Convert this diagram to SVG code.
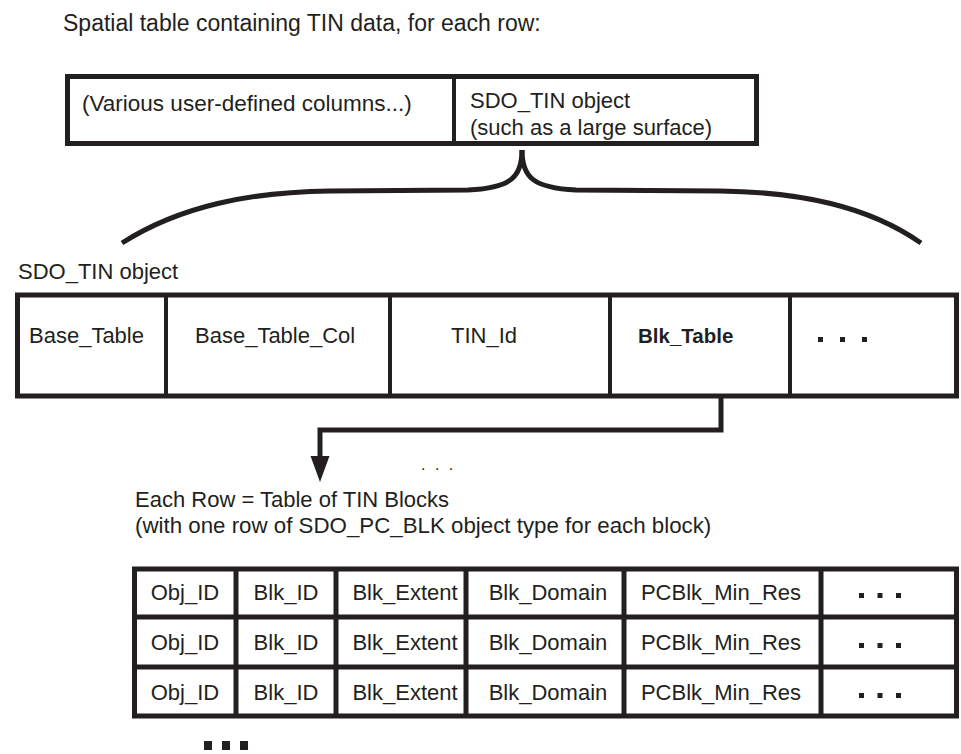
<svg xmlns="http://www.w3.org/2000/svg" width="961" height="754" viewBox="0 0 961 754">
<style>
text{font-family:"Liberation Sans",Arial,Helvetica,sans-serif;font-size:22px;fill:#231f20}
.b{font-weight:bold;font-size:20.5px}
.box{fill:#fff;stroke:#231f20;stroke-width:5}
.div{stroke:#231f20;stroke-width:4;fill:none}
.ln{stroke:#231f20;stroke-width:5;fill:none}
.dot{fill:#231f20}
.mid{text-anchor:middle}
</style>
<rect width="961" height="754" fill="#fff"/>
<text x="63" y="31" style="font-size:23px">Spatial table containing TIN data, for each row:</text>

<g id="row-table">
<rect class="box" x="67.5" y="76.5" width="689" height="67"/>
<line class="div" x1="454" y1="76.5" x2="454" y2="143.5"/>
<text x="82" y="111" style="font-size:22.5px">(Various user-defined columns...)</text>
<text x="470" y="108">SDO_TIN object</text>
<text x="470" y="135">(such as a large surface)</text>
</g>

<g id="brace">
<path class="ln" d="M522,150 C522,177 511,188 468,190 L330,191 C250,192 180,206 122,243"/>
<path class="ln" d="M522,150 C522,177 533,188 576,190 L720,191 C800,192 868,206 921,243"/>
</g>

<g id="sdo-tin">
<text x="18" y="279">SDO_TIN object</text>
<rect class="box" x="17.5" y="295" width="939" height="101"/>
<line class="div" x1="166" y1="295" x2="166" y2="396"/>
<line class="div" x1="390" y1="295" x2="390" y2="396"/>
<line class="div" x1="610" y1="295" x2="610" y2="396"/>
<line class="div" x1="790" y1="295" x2="790" y2="396"/>
<text x="29" y="343">Base_Table</text>
<text x="195" y="343">Base_Table_Col</text>
<text x="451" y="343">TIN_Id</text>
<text class="b" x="638" y="343">Blk_Table</text>
<rect class="dot" x="818" y="337" width="5" height="5"/>
<rect class="dot" x="840" y="337" width="5" height="5"/>
<rect class="dot" x="862" y="337" width="5" height="5"/>
</g>

<g id="connectors">
<polyline class="ln" points="721,398 721,430 320,430 320,460"/>
<polygon class="dot" points="310.5,456 329.5,456 320,482"/>
</g>

<text x="421" y="470" style="font-size:16px;letter-spacing:2.5px">. . .</text>

<g id="blocks">
<text x="135" y="507">Each Row = Table of TIN Blocks</text>
<text x="135" y="533" style="font-size:22.3px">(with one row of SDO_PC_BLK object type for each block)</text>
<rect class="box" x="134.5" y="569" width="822" height="147"/>
<line class="ln" x1="134.5" y1="617" x2="956.5" y2="617"/>
<line class="ln" x1="134.5" y1="667" x2="956.5" y2="667"/>
<line class="ln" x1="236" y1="569" x2="236" y2="716"/>
<line class="ln" x1="336" y1="569" x2="336" y2="716"/>
<line class="ln" x1="466" y1="569" x2="466" y2="716"/>
<line class="ln" x1="624" y1="569" x2="624" y2="716"/>
<line class="ln" x1="821" y1="569" x2="821" y2="716"/>
<g id="blk-row1">
<text class="mid" x="185" y="600">Obj_ID</text>
<text class="mid" x="286" y="600">Blk_ID</text>
<text class="mid" x="405" y="600">Blk_Extent</text>
<text class="mid" x="548" y="600">Blk_Domain</text>
<text class="mid" x="721" y="600">PCBlk_Min_Res</text>
<rect class="dot" x="859" y="593" width="5" height="5"/>
<rect class="dot" x="877.5" y="593" width="5" height="5"/>
<rect class="dot" x="896" y="593" width="5" height="5"/>
</g>
<g id="blk-row2">
<text class="mid" x="185" y="650">Obj_ID</text>
<text class="mid" x="286" y="650">Blk_ID</text>
<text class="mid" x="405" y="650">Blk_Extent</text>
<text class="mid" x="548" y="650">Blk_Domain</text>
<text class="mid" x="721" y="650">PCBlk_Min_Res</text>
<rect class="dot" x="859" y="643" width="5" height="5"/>
<rect class="dot" x="877.5" y="643" width="5" height="5"/>
<rect class="dot" x="896" y="643" width="5" height="5"/>
</g>
<g id="blk-row3">
<text class="mid" x="185" y="700">Obj_ID</text>
<text class="mid" x="286" y="700">Blk_ID</text>
<text class="mid" x="405" y="700">Blk_Extent</text>
<text class="mid" x="548" y="700">Blk_Domain</text>
<text class="mid" x="721" y="700">PCBlk_Min_Res</text>
<rect class="dot" x="859" y="693" width="5" height="5"/>
<rect class="dot" x="877.5" y="693" width="5" height="5"/>
<rect class="dot" x="896" y="693" width="5" height="5"/>
</g>
</g>

<g id="more-rows">
<rect class="dot" x="204" y="741" width="8" height="9"/>
<rect class="dot" x="222" y="741" width="8" height="9"/>
<rect class="dot" x="240" y="741" width="8" height="9"/>
</g>
</svg>
